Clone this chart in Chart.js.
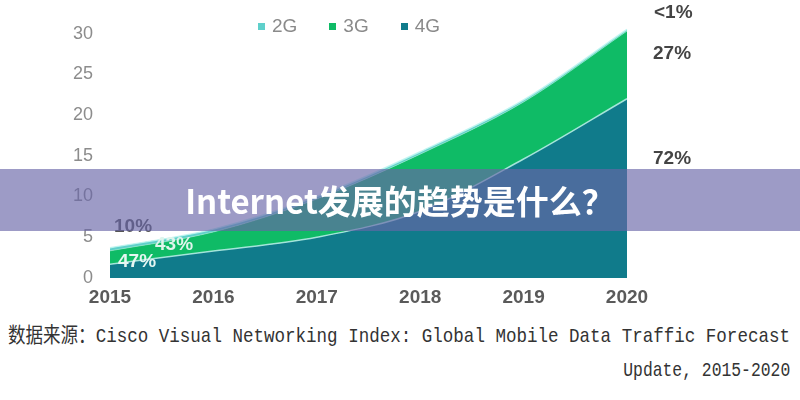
<!DOCTYPE html>
<html>
<head>
<meta charset="utf-8">
<script src="https://cdn.jsdelivr.net/npm/chart.js@4/dist/chart.umd.min.js"></script>
<style>
  html, body { margin:0; padding:0; background:#fff; }
  #page { position:relative; width:800px; height:400px; overflow:hidden; background:#fff; }
  #wrap { position:absolute; left:0; top:-35px; width:800px; height:345px; }
  #legend { position:absolute; top:15px; left:258px; display:flex; gap:32px; font-family:"Liberation Sans", Arial, sans-serif; font-size:19px; color:#8a8a8a; align-items:center; }
  #legend .item { display:flex; align-items:center; gap:7px; }
  #legend .sw { width:7px; height:7px; display:inline-block; }
  .pct { position:absolute; font-family:"Liberation Sans", Arial, sans-serif; font-weight:bold; font-size:19px; white-space:nowrap; }
  #banner { position:absolute; left:0; top:169px; width:800px; height:62px; background:rgba(104,102,167,0.65); }
  #title { position:absolute; left:0; top:169px; width:800px; height:62px; line-height:62px; text-align:center; color:#fff; font-family:"Noto Sans CJK SC", "Noto Sans", sans-serif; font-weight:bold; font-size:33px; }
  .src { position:absolute; font-family:"Liberation Mono", "Noto Sans CJK SC", monospace; font-size:21px; color:#333; white-space:nowrap; }
</style>
</head>
<body>
<div id="page">
  <div id="wrap"><canvas id="c"></canvas></div>
  <div id="legend"></div>
  <div class="pct" style="left:654px; top:1px; color:#444;">&lt;1%</div>
  <div class="pct" style="left:653px; top:42px; color:#444;">27%</div>
  <div class="pct" style="left:653px; top:147px; color:#444;">72%</div>
  <div class="pct" style="left:114px; top:215px; color:#555;">10%</div>
  <div class="pct" style="left:155px; top:233px; color:#dff5ec;">43%</div>
  <div class="pct" style="left:118px; top:250px; color:#e6f6f2;">47%</div>
  <div id="banner"></div>
  <div id="title">Internet发展的趋势是什么？</div>
  <div class="src" id="src1">数据来源：Cisco Visual Networking Index: Global Mobile Data Traffic Forecast</div>
  <div class="src" id="src2">Update, 2015-2020</div>
</div>
<script>
const years = ['2015', '2016', '2017', '2018', '2019', '2020'];
const seriesNames = ['2G', '3G', '4G'];
const values4G = [1.7, 3.3, 5.0, 8.2, 14.6, 22.0];
const values3G = [1.63, 2.35, 4.7, 7.0, 7.0, 8.3];
const values2G = [0.37, 0.35, 0.3, 0.3, 0.25, 0.2];
const yTicks = [0, 5, 10, 15, 20, 25, 30, 35];

const colors = { '2G': '#5fd0cb', '3G': '#0fbb66', '4G': '#107b8b' };

// legend
const lg = document.getElementById('legend');
seriesNames.forEach(n => {
  const it = document.createElement('div'); it.className = 'item';
  const sw = document.createElement('span'); sw.className = 'sw'; sw.style.background = colors[n];
  const tx = document.createElement('span'); tx.textContent = n;
  it.appendChild(sw); it.appendChild(tx); lg.appendChild(it);
});

// source text fitting
function fit(el, top, width, origin) {
  el.style.top = top + 'px';
  const w = el.getBoundingClientRect().width;
  el.style.transformOrigin = origin;
  el.style.transform = 'scaleX(' + (width / w) + ')';
}
const s1 = document.getElementById('src1');
const s2 = document.getElementById('src2');
s1.style.left = '8px'; s2.style.right = '10px';
fit(s1, 318, 782, 'left top');
fit(s2, 359, 167, 'right top');

const ctx = document.getElementById('c');
new Chart(ctx, {
  type: 'line',
  data: {
    labels: years,
    datasets: [
      { label: '4G', data: values4G, backgroundColor: colors['4G'], borderColor: 'rgba(175,235,225,0.9)', borderWidth: 1.5, fill: 'origin', pointRadius: 0, cubicInterpolationMode: 'monotone' },
      { label: '3G', data: values3G, backgroundColor: colors['3G'], borderColor: 'rgba(160,235,215,0.6)', borderWidth: 1, fill: '-1', pointRadius: 0, cubicInterpolationMode: 'monotone' },
      { label: '2G', data: values2G, backgroundColor: colors['2G'], borderColor: 'rgba(190,245,240,0.9)', borderWidth: 1.5, fill: '-1', pointRadius: 0, cubicInterpolationMode: 'monotone' }
    ]
  },
  options: {
    responsive: true,
    maintainAspectRatio: false,
    animation: false,
    layout: { padding: { top: 0, right: 173, left: 0, bottom: 0 } },
    plugins: { legend: { display: false }, tooltip: { enabled: false } },
    scales: {
      x: {
        offset: false,
        grid: { display: false, drawTicks: false },
        border: { display: false },
        ticks: { color: '#5a5a5a', font: { family: 'Liberation Sans', size: 19, weight: 'bold' }, padding: 8, maxRotation: 0 },
        afterFit: s => { s.height = 32; }
      },
      y: {
        stacked: true,
        min: yTicks[0], max: yTicks[yTicks.length - 1],
        grid: { display: false, drawTicks: false },
        border: { display: false },
        ticks: { stepSize: 5, color: '#8c8c8c', font: { family: 'Liberation Sans', size: 18 }, padding: 17 },
        afterBuildTicks: s => { s.ticks = yTicks.map(v => ({ value: v })); },
        afterFit: s => { s.width = 110; }
      }
    }
  }
});
</script>
</body>
</html>
